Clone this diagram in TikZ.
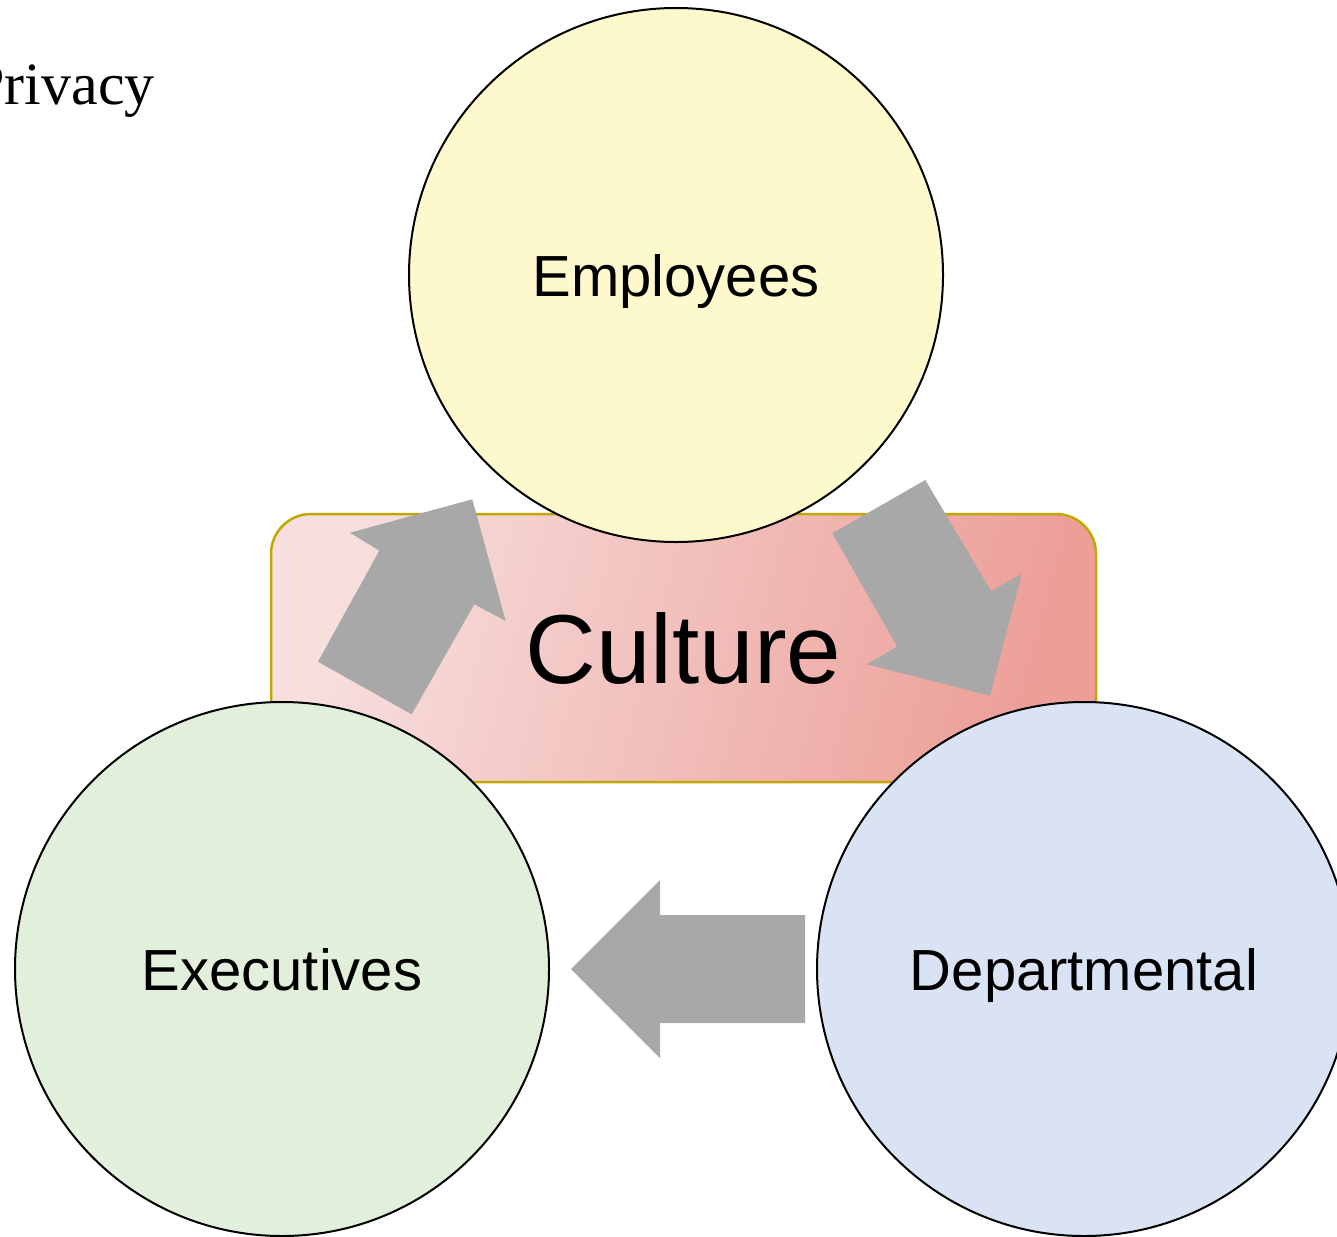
\documentclass[tikz,border=0pt]{standalone}
\usepackage{fontspec}
\setmainfont{Liberation Serif}
\newfontfamily\arialf{Liberation Sans}
\definecolor{empfill}{RGB}{253,249,204}
\definecolor{exefill}{RGB}{226,239,218}
\definecolor{depfill}{RGB}{218,227,243}
\definecolor{boxline}{RGB}{192,168,0}
\definecolor{pinkL}{RGB}{247,223,222}
\definecolor{pinkR}{RGB}{236,158,151}
\definecolor{arrowgray}{RGB}{168,168,168}
\tikzset{
  bubble/.style={circle, draw=black, line width=2pt, minimum size=534pt, inner sep=0pt,
    font=\arialf\fontsize{58}{60}\selectfont, text depth=0pt},
  culturebox/.style={draw=boxline, line width=2.5pt, rounded corners=40pt,
    minimum width=825pt, minimum height=268pt, inner sep=0pt,
    left color=pinkL, right color=pinkR, shading angle=75,
    font=\arialf\fontsize{98}{100}\selectfont, text depth=0pt},
  bigarrow/.style={fill=arrowgray, draw=none}
}
\begin{document}
\begin{tikzpicture}[x=1pt,y=-1pt]
\useasboundingbox (0,0) rectangle (1337,1236);
% title fragment
\node[anchor=base east, inner sep=0pt, font=\fontsize{60}{62}\selectfont] (privacy) at (155,105) {Privacy};
% culture box
\node[culturebox] (culture) at (683.5,648) {Culture};
% circles
\node[bubble, fill=empfill] (emp) at (676,275) {Employees};
\node[bubble, fill=exefill] (exe) at (282,969) {Executives};
\node[bubble, fill=depfill] (dep) at (1084,969) {Departmental};
% arrows
\fill[bigarrow] (472.3,499.3) -- (505.7,621) -- (474.3,604.3) -- (411.7,714.3)
  -- (318,661.7) -- (379.3,550.7) -- (350,532.7) -- cycle;
\fill[bigarrow] (832.3,533.3) -- (925.3,480) -- (991,591) -- (1021.7,574)
  -- (990,695.7) -- (866.7,664.3) -- (897.3,646.7) -- cycle;
\fill[bigarrow] (571,969) -- (660,880) -- (660,915) -- (805,915)
  -- (805,1023) -- (660,1023) -- (660,1058) -- cycle;
\end{tikzpicture}
\end{document}
